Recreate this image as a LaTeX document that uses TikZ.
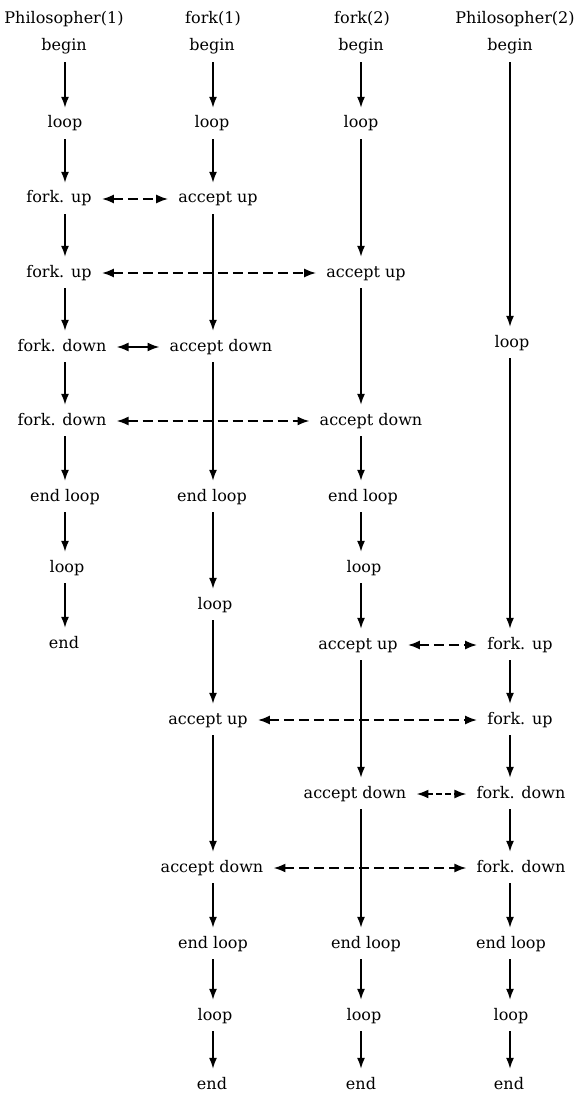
\documentclass[tikz,border=0pt]{standalone}
\usepackage{fontspec}
\setmainfont{DejaVu Serif}
\usetikzlibrary{arrows.meta}

\begin{document}
\begin{tikzpicture}[x=1pt,y=-1pt,
  lbl/.style={font=\fontsize{16}{19}\selectfont, inner xsep=4pt, inner ysep=0pt,
              text height=11pt, text depth=3pt},
  flow/.style={line width=1.6pt, -{Latex[length=11pt,width=8pt]},
               shorten <=8pt, shorten >=9pt},
  sync/.style={line width=2pt, {Latex[length=12pt,width=9pt]}-{Latex[length=12pt,width=9pt]},
               dash pattern=on 10pt off 5pt, shorten <=6pt, shorten >=6pt},
  syncshort/.style={sync, solid}]
\useasboundingbox (0,0) rectangle (579,1094);

% column axes
\coordinate (x1) at (65,0);
\coordinate (x2) at (213,0);
\coordinate (x3) at (361,0);
\coordinate (x4) at (510,0);

% headers
\node[lbl] (h1) at (64,20)  {Philosopher(1)};
\node[lbl] (h2) at (213,20) {fork(1)};
\node[lbl] (h3) at (362,20) {fork(2)};
\node[lbl] (h4) at (515,20) {Philosopher(2)};

% Philosopher(1)
\node[lbl] (a1) at (64,47)  {begin};
\node[lbl] (a2) at (65,124) {loop};
\node[lbl] (a3) at (59,199) {fork. up};
\node[lbl] (a4) at (59,273) {fork. up};
\node[lbl] (a5) at (62,347) {fork. down};
\node[lbl] (a6) at (62,421) {fork. down};
\node[lbl] (a7) at (65,497) {end loop};
\node[lbl] (a8) at (67,568) {loop};
\node[lbl] (a9) at (64,644) {end};

% fork(1)
\node[lbl] (b1)  at (212,47)   {begin};
\node[lbl] (b2)  at (212,124)  {loop};
\node[lbl] (b3)  at (218,199)  {accept up};
\node[lbl] (b4)  at (221,347)  {accept down};
\node[lbl] (b5)  at (212,497)  {end loop};
\node[lbl] (b6)  at (215,605)  {loop};
\node[lbl] (b7)  at (208,720)  {accept up};
\node[lbl] (b8)  at (212,868)  {accept down};
\node[lbl] (b9)  at (213,944)  {end loop};
\node[lbl] (b10) at (215,1016) {loop};
\node[lbl] (b11) at (212,1085) {end};

% fork(2)
\node[lbl] (c1)  at (361,47)   {begin};
\node[lbl] (c2)  at (361,124)  {loop};
\node[lbl] (c3)  at (366,273)  {accept up};
\node[lbl] (c4)  at (371,421)  {accept down};
\node[lbl] (c5)  at (363,497)  {end loop};
\node[lbl] (c6)  at (364,568)  {loop};
\node[lbl] (c7)  at (358,645)  {accept up};
\node[lbl] (c8)  at (355,794)  {accept down};
\node[lbl] (c9)  at (366,944)  {end loop};
\node[lbl] (c10) at (364,1016) {loop};
\node[lbl] (c11) at (361,1085) {end};

% Philosopher(2)
\node[lbl] (d1) at (510,47)   {begin};
\node[lbl] (d2) at (512,343)  {loop};
\node[lbl] (d3) at (520,645)  {fork. up};
\node[lbl] (d4) at (520,720)  {fork. up};
\node[lbl] (d5) at (521,794)  {fork. down};
\node[lbl] (d6) at (521,868)  {fork. down};
\node[lbl] (d7) at (511,944)  {end loop};
\node[lbl] (d8) at (511,1016) {loop};
\node[lbl] (d9) at (509,1085) {end};

% control flow within each process
\foreach \u/\v in {a1/a2,a2/a3,a3/a4,a4/a5,a5/a6,a6/a7,a7/a8,a8/a9}
  \draw[flow] (\u.south -| x1) -- (\v.north -| x1);
\foreach \u/\v in {b1/b2,b2/b3,b3/b4,b4/b5,b5/b6,b6/b7,b7/b8,b8/b9,b9/b10,b10/b11}
  \draw[flow] (\u.south -| x2) -- (\v.north -| x2);
\foreach \u/\v in {c1/c2,c2/c3,c3/c4,c4/c5,c5/c6,c6/c7,c7/c8,c8/c9,c9/c10,c10/c11}
  \draw[flow] (\u.south -| x3) -- (\v.north -| x3);
\foreach \u/\v in {d1/d2,d2/d3,d3/d4,d4/d5,d5/d6,d6/d7,d7/d8,d8/d9}
  \draw[flow] (\u.south -| x4) -- (\v.north -| x4);

% rendezvous between philosophers and forks
\draw[sync] (a3.east) -- (b3.west |- a3.east);
\draw[sync] (a4.east) -- (c3.west |- a4.east);
\draw[syncshort] (a5.east) -- (b4.west |- a5.east);
\draw[sync] (a6.east) -- (c4.west |- a6.east);
\draw[sync] (c7.east) -- (d3.west |- c7.east);
\draw[sync] (b7.east) -- (d4.west |- b7.east);
\draw[sync, dash pattern=on 6pt off 3pt] (c8.east) -- (d5.west |- c8.east);
\draw[sync] (b8.east) -- (d6.west |- b8.east);
\end{tikzpicture}
\end{document}
